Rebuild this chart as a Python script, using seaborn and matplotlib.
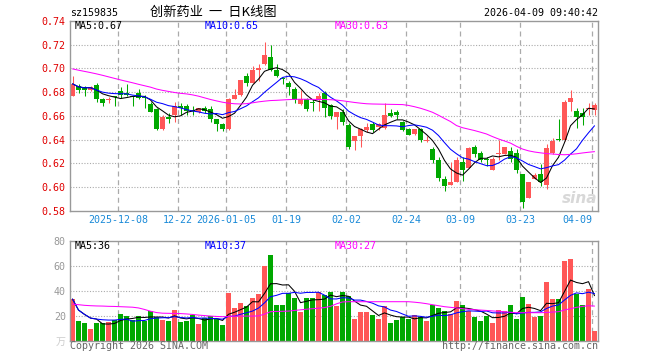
import numpy as np
import pandas as pd
import matplotlib
matplotlib.use("Agg")
import matplotlib.pyplot as plt
import seaborn as sns

# daily candles of sz159835, index 0 = 2025-11-26 ... 87 = 2026-04-09
opens = [0.677, 0.685, 0.684, 0.682, 0.686, 0.674, 0.673, 0.677, 0.681, 0.679,
         0.677, 0.679, 0.676, 0.670, 0.666, 0.649, 0.659, 0.661, 0.668, 0.668,
         0.665, 0.663, 0.667, 0.666, 0.657, 0.653, 0.649, 0.674, 0.678, 0.694,
         0.688, 0.699, 0.704, 0.710, 0.699, 0.692, 0.688, 0.683, 0.670, 0.674,
         0.672, 0.673, 0.679, 0.669, 0.659, 0.663, 0.652, 0.639, 0.643, 0.648,
         0.653, 0.651, 0.650, 0.662, 0.663, 0.655, 0.649, 0.645, 0.649, 0.639,
         0.632, 0.623, 0.607, 0.602, 0.604, 0.621, 0.616, 0.634, 0.629, 0.624,
         0.614, 0.628, 0.628, 0.630, 0.629, 0.611, 0.591, 0.607, 0.611, 0.602,
         0.629, 0.6403, 0.640, 0.672, 0.664, 0.662, 0.666, 0.665]
highs = [0.694, 0.687, 0.685, 0.685, 0.688, 0.675, 0.676, 0.677, 0.684, 0.687,
         0.677, 0.683, 0.678, 0.672, 0.667, 0.661, 0.662, 0.672, 0.671, 0.670,
         0.668, 0.667, 0.668, 0.668, 0.657, 0.654, 0.675, 0.683, 0.690, 0.696,
         0.702, 0.704, 0.722, 0.720, 0.704, 0.693, 0.689, 0.684, 0.682, 0.675,
         0.674, 0.679, 0.681, 0.670, 0.663, 0.666, 0.654, 0.643, 0.650, 0.654,
         0.655, 0.654, 0.671, 0.666, 0.665, 0.656, 0.650, 0.649, 0.650, 0.643,
         0.634, 0.625, 0.609, 0.621, 0.625, 0.625, 0.634, 0.635, 0.630, 0.625,
         0.625, 0.640, 0.634, 0.634, 0.632, 0.611, 0.604, 0.612, 0.619, 0.636,
         0.641, 0.657, 0.673, 0.682, 0.667, 0.667, 0.671, 0.671]
lows = [0.677, 0.679, 0.677, 0.681, 0.672, 0.668, 0.671, 0.668, 0.675, 0.677,
        0.668, 0.674, 0.667, 0.663, 0.648, 0.648, 0.654, 0.655, 0.661, 0.661,
        0.661, 0.662, 0.662, 0.655, 0.647, 0.647, 0.648, 0.674, 0.677, 0.685,
        0.688, 0.689, 0.703, 0.698, 0.693, 0.687, 0.678, 0.671, 0.669, 0.664,
        0.664, 0.664, 0.659, 0.657, 0.649, 0.652, 0.632, 0.631, 0.634, 0.646,
        0.646, 0.648, 0.649, 0.659, 0.657, 0.647, 0.644, 0.644, 0.638, 0.638,
        0.620, 0.605, 0.597, 0.602, 0.604, 0.605, 0.616, 0.625, 0.621, 0.618,
        0.614, 0.623, 0.628, 0.621, 0.612, 0.582, 0.591, 0.607, 0.601, 0.598,
        0.628, 0.639, 0.639, 0.664, 0.650, 0.652, 0.661, 0.661]
closes = [0.687, 0.682, 0.682, 0.684, 0.674, 0.671, 0.674, 0.676, 0.678, 0.678,
          0.676, 0.675, 0.675, 0.663, 0.649, 0.659, 0.657, 0.668, 0.667, 0.664,
          0.664, 0.667, 0.664, 0.657, 0.653, 0.649, 0.674, 0.678, 0.690, 0.688,
          0.699, 0.700, 0.711, 0.699, 0.694, 0.691, 0.684, 0.673, 0.674, 0.666,
          0.671, 0.677, 0.667, 0.660, 0.663, 0.655, 0.634, 0.643, 0.649, 0.651,
          0.648, 0.653, 0.661, 0.660, 0.661, 0.648, 0.644, 0.649, 0.640, 0.640,
          0.623, 0.608, 0.601, 0.604, 0.623, 0.614, 0.633, 0.628, 0.623, 0.623,
          0.624, 0.629, 0.634, 0.624, 0.614, 0.587, 0.604, 0.610, 0.604, 0.633,
          0.639, 0.6394, 0.672, 0.675, 0.659, 0.659, 0.667, 0.669]
# volume, 万
volumes = [33.3, 15.7, 14.1, 9.3, 14.1, 14.1, 14.9, 16.5, 21.3, 19.7,
           16.5, 19.7, 15.7, 23.5, 19.2, 16.5, 15.7, 24.5, 14.9, 15.7,
           20.5, 13.3, 18.1, 19.7, 17.3, 12.5, 38.1, 26.1, 30.1, 27.7,
           34.1, 37.3, 60.0, 68.5, 28.5, 28.5, 38.1, 34.1, 22.9, 34.1,
           34.1, 38.9, 36.5, 38.9, 27.7, 38.9, 35.7, 17.3, 22.9, 22.9,
           20.5, 17.3, 27.7, 14.1, 16.5, 18.9, 17.3, 20.5, 18.9, 15.7,
           28.5, 26.1, 23.7, 21.3, 31.7, 28.5, 23.7, 18.9, 15.7, 19.7,
           14.1, 24.5, 23.7, 28.5, 17.3, 34.9, 29.3, 18.9, 19.7, 46.9,
           33.3, 33.3, 63.7, 65.3, 37.3, 28.5, 41.3, 7.7]
# 30-day averages as drawn (they need days before the window)
ma30_price = [0.6996, 0.6985, 0.6975, 0.6965, 0.6954, 0.6942, 0.6929, 0.6916, 0.6903, 0.6891,
              0.6879, 0.6866, 0.6854, 0.6842, 0.6826, 0.6815, 0.6806, 0.6797, 0.6790, 0.6785,
              0.6777, 0.6766, 0.6752, 0.6738, 0.6726, 0.6715, 0.6707, 0.6702, 0.6700, 0.6703,
              0.6710, 0.6718, 0.6724, 0.6729, 0.6731, 0.6734, 0.6737, 0.6739, 0.6740, 0.6740,
              0.6739, 0.6738, 0.6738, 0.6736, 0.6733, 0.6727, 0.6720, 0.6713, 0.6707, 0.6702,
              0.6700, 0.6699, 0.6698, 0.6697, 0.6696, 0.6695, 0.6688, 0.6677, 0.6664, 0.6648,
              0.6630, 0.6605, 0.6578, 0.6552, 0.6518, 0.6500, 0.6488, 0.6476, 0.6462, 0.6447,
              0.6425, 0.6405, 0.6388, 0.6370, 0.6343, 0.6320, 0.6305, 0.6295, 0.6288, 0.6282,
              0.6278, 0.6274, 0.6272, 0.6275, 0.6280, 0.6287, 0.6293, 0.6298]
ma30_vol = [29.3, 28.8, 28.3, 28.0, 27.8, 27.7, 27.5, 27.4, 27.2, 27.0,
            26.8, 26.2, 25.0, 23.6, 22.5, 22.0, 21.9, 21.8, 21.7, 21.4,
            21.0, 20.5, 20.1, 19.7, 19.4, 19.2, 19.3, 19.6, 19.7, 19.7,
            19.7, 19.8, 21.3, 23.2, 23.4, 23.5, 23.7, 24.2, 24.7, 25.2,
            25.6, 26.0, 26.5, 27.5, 29.5, 31.0, 31.2, 31.2, 31.2, 31.2,
            31.2, 31.2, 31.2, 31.2, 31.2, 31.2, 31.2, 30.8, 30.3, 29.6,
            28.8, 28.0, 27.2, 26.7, 26.2, 25.6, 25.1, 24.8, 24.5, 24.2,
            23.8, 23.5, 23.1, 22.7, 22.4, 22.4, 22.4, 22.4, 22.4, 22.6,
            22.9, 23.2, 24.6, 25.6, 26.7, 27.4, 28.0, 27.7]

tick_pos = [8, 18, 26, 36, 46, 56, 65, 75, 87]
tick_labels = ["2025-12-08", "12-22", "2026-01-05", "01-19", "02-02",
               "02-24", "03-09", "03-23", "04-09"]

df = pd.DataFrame({"open": opens, "high": highs, "low": lows, "close": closes, "vol": volumes})
df["i"] = np.arange(len(df))
df["ma5"] = df["close"].rolling(5, min_periods=1).mean()
df["ma10"] = df["close"].rolling(10, min_periods=1).mean()
df["ma30"] = ma30_price
df["vma5"] = df["vol"].rolling(5, min_periods=1).mean()
df["vma10"] = df["vol"].rolling(10, min_periods=1).mean()
df["vma30"] = ma30_vol

RED, GREEN = "#ff5757", "#00a800"
col = np.where(df["close"] >= df["open"], RED, GREEN)

sns.set_theme(style="white")
plt.rcParams['font.family'] = ['DejaVu Sans Mono', 'Noto Sans CJK SC']
FS = 7.2
LW = 0.75

W, H = 660, 360
fig = plt.figure(figsize=(6.6, 3.6), dpi=100)


def rect(l, t, r, b):
    return [l / W, 1 - b / H, (r - l) / W, (b - t) / H]


ax1 = fig.add_axes(rect(70, 21, 597.7, 210.7))
ax2 = fig.add_axes(rect(70, 240.7, 597.7, 340.7))
xlim = (-0.42, 87.53)
grid_x = [p - 0.4 for p in tick_pos]

# price panel
ax1.vlines(df["i"], df["low"], df["high"], colors=col, lw=LW)
body = np.maximum((df["close"] - df["open"]).abs(), 0.0005)
ax1.bar(df["i"], body, bottom=np.minimum(df["open"], df["close"]), width=0.84, color=col, lw=0)
sns.lineplot(data=df, x="i", y="ma5", ax=ax1, color="black", lw=LW)
sns.lineplot(data=df, x="i", y="ma10", ax=ax1, color="#0000ff", lw=LW)
sns.lineplot(data=df, x="i", y="ma30", ax=ax1, color="#ff00ff", lw=LW)
ax1.set_ylim(0.58, 0.74)
yt = np.round(np.arange(0.58, 0.741, 0.02), 2)
ax1.set_yticks(yt)
ax1.set_yticklabels([f"{v:.2f}" for v in yt], color="#e00000", fontsize=FS)
for v in yt[1:-1]:
    ax1.axhline(v, color="#aaaaaa", lw=0.8, ls=(0, (1, 1.5)), zorder=0)

# volume panel
ax2.bar(df["i"], df["vol"], width=0.84, color=col, lw=0)
sns.lineplot(data=df, x="i", y="vma5", ax=ax2, color="black", lw=LW)
sns.lineplot(data=df, x="i", y="vma10", ax=ax2, color="#0000ff", lw=LW)
sns.lineplot(data=df, x="i", y="vma30", ax=ax2, color="#ff00ff", lw=LW)
ax2.set_ylim(0, 80)
ax2.set_yticks([0, 20, 40, 60, 80])
ax2.set_yticklabels(["万", "20", "40", "60", "80"], color="#999999", fontsize=FS)
ax2.get_yticklabels()[0].set_color("#cccccc")
for v in [20, 40, 60]:
    ax2.axhline(v, color="#aaaaaa", lw=0.8, ls=(0, (1, 1.5)), zorder=0)

for ax in (ax1, ax2):
    ax.set_xlim(*xlim)
    ax.set_xlabel("")
    ax.set_ylabel("")
    for gx in grid_x:
        ax.axvline(gx, color="#aaaaaa", lw=0.9, ls=(0, (4, 3)), zorder=0)
    for s in ax.spines.values():
        s.set_color("#999999")
        s.set_linewidth(1)
    ax.tick_params(length=0, pad=3)

ax1.set_xticks(grid_x)
ax1.set_xticklabels(tick_labels, color="#1a8ad8", fontsize=FS)
ax1.get_xticklabels()[-1].set_horizontalalignment("right")
ax2.set_xticks([])

# header and legends


def put(x, y, s, **kw):
    kw.setdefault("fontsize", FS)
    kw.setdefault("va", "center")
    fig.text(x / W, 1 - y / H, s, **kw)


put(70, 13, "sz159835", color="black")
put(213, 12, "创新药业  一  日K线图", ha="center", fontsize=9.5,
    family=['Noto Sans CJK SC', 'DejaVu Sans'], color="black")
put(597.7, 13, "2026-04-09 09:40:42", ha="right", color="black")
put(75, 26, f"MA5:{df['ma5'].iloc[-1]:.2f}", color="black")
put(205, 26, f"MA10:{df['ma10'].iloc[-1]:.2f}", color="#0000ff")
put(335, 26, f"MA30:{df['ma30'].iloc[-1]:.2f}", color="#ff00ff")
put(75, 246, f"MA5:{int(df['vma5'].iloc[-1])}", color="black")
put(205, 246, f"MA10:{int(df['vma10'].iloc[-1])}", color="#0000ff")
put(335, 246, f"MA30:{int(df['vma30'].iloc[-1])}", color="#ff00ff")
put(70, 346, "Copyright 2026 SINA.COM", color="#666666")
put(597.7, 346, "http://finance.sina.com.cn", ha="right", color="#666666")
put(580, 198, "sina", ha="center", color="#d8d8d8", fontsize=11,
    family="DejaVu Sans", weight="bold", style="italic")

fig.savefig("out.png", dpi=100)
